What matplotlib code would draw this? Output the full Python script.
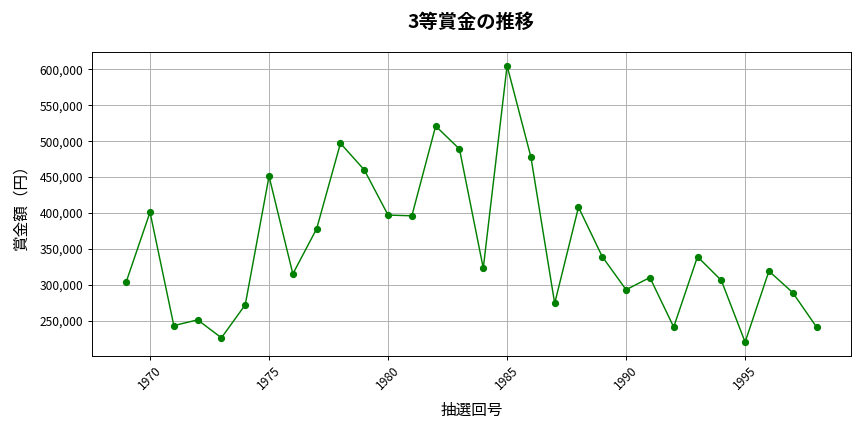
import matplotlib
matplotlib.use("Agg")
import matplotlib.pyplot as plt
from matplotlib.ticker import FuncFormatter

plt.rcParams['font.family'] = ['Noto Sans CJK JP', 'DejaVu Sans']

years = list(range(1969, 1999))
prizes = [304000, 401000, 243000, 251000, 226000, 272000, 451000, 315000, 378000, 497000,
          460000, 397000, 396000, 521000, 489000, 323000, 605000, 478000, 274000, 408000,
          339000, 293000, 310000, 241000, 339000, 306000, 220000, 319000, 289000, 241000]

title = "3等賞金の推移"
xlabel = "抽選回号"
ylabel = "賞金額（円）"

fig, ax = plt.subplots(figsize=(10, 5), dpi=86.4)
ax.plot(years, prizes, color='green', marker='o', markersize=5, linewidth=1.2)
ax.set_title(title, fontsize=16, fontweight='bold', pad=20)
ax.set_xlabel(xlabel, fontsize=13, labelpad=8)
ax.set_ylabel(ylabel, fontsize=13, labelpad=8)
ax.yaxis.set_major_formatter(FuncFormatter(lambda v, p: f"{int(v):,}"))
ax.tick_params(axis='both', labelsize=10)
plt.setp(ax.get_xticklabels(), rotation=45)
ax.grid(True, color='#b0b0b0', linewidth=0.8)
fig.tight_layout()
fig.savefig("out.png")
